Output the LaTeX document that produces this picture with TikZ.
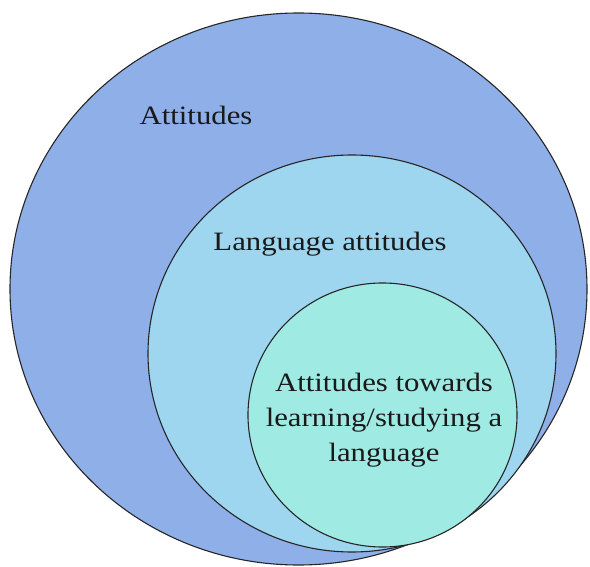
\documentclass[tikz,border=0pt]{standalone}
\usepackage{fontspec}
\setmainfont{Liberation Serif}[FakeStretch=1.16]
\definecolor{outerc}{RGB}{143,175,232}
\definecolor{midc}{RGB}{158,214,240}
\definecolor{innerc}{RGB}{160,234,228}
\begin{document}
\begin{tikzpicture}[x=1pt,y=1pt,
  ring/.style={draw=black!85,line width=1.1pt},
  lbl/.style={font=\fontsize{26.5}{35}\selectfont,text=black!90,inner sep=0pt}]
\useasboundingbox (0,0) rectangle (590,566);
\filldraw[ring,fill=outerc] (298.5,277) ellipse [x radius=288.5,y radius=276];
\filldraw[ring,fill=midc] (352,212.5) ellipse [x radius=204,y radius=198.5];
\filldraw[ring,fill=innerc] (382.5,151) ellipse [x radius=134.5,y radius=132];
\node[lbl] (a) at (196,451) {Attitudes};
\node[lbl] (b) at (330,322) {Language attitudes};
\node[lbl,align=center] (c) at (384,146) {Attitudes towards\\learning/studying a\\language};
\end{tikzpicture}
\end{document}
